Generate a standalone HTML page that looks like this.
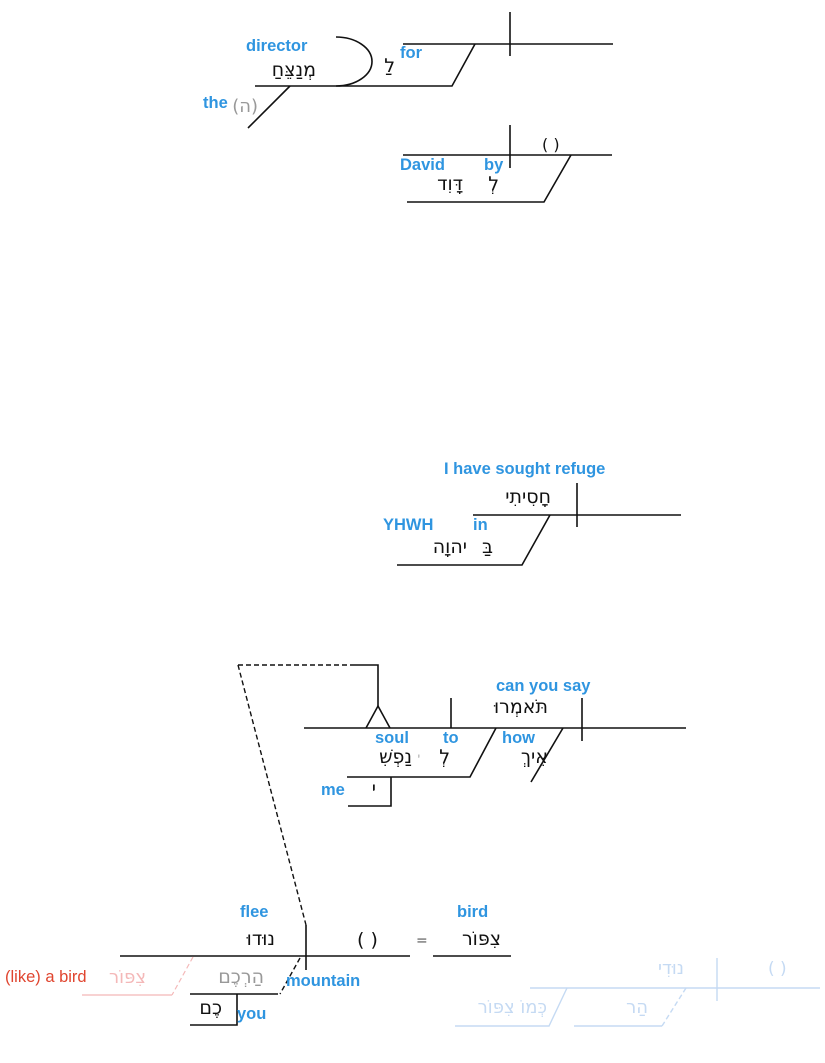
<!DOCTYPE html>
<html><head><meta charset="utf-8"><style>
html,body{margin:0;padding:0;background:#fff;width:825px;height:1063px;overflow:hidden}
svg{display:block}
.b{font-family:"Liberation Sans",sans-serif;font-weight:bold;font-size:16.5px;fill:#2f95e0}
.h{font-family:"DejaVu Sans","Liberation Sans",sans-serif;font-size:19px;fill:#111}
.p{font-family:"DejaVu Sans","Liberation Sans",sans-serif;font-size:17px;fill:#111}
</style></head><body>
<svg width="825" height="1063" viewBox="0 0 825 1063" xmlns="http://www.w3.org/2000/svg">
<g stroke="#111" stroke-width="1.6" fill="none">
<line x1="403" y1="44" x2="613" y2="44"/>
<line x1="510" y1="12" x2="510" y2="56"/>
<polyline points="475,44 452,86 255,86"/>
<path d="M336,37 A36,24.5 0 0 1 336,86"/>
<line x1="290" y1="86" x2="248" y2="128"/>
<line x1="403" y1="155" x2="612" y2="155"/>
<line x1="510" y1="125" x2="510" y2="168"/>
<polyline points="571,155 544,202 407,202"/>
<line x1="473" y1="515" x2="681" y2="515"/>
<line x1="577" y1="483" x2="577" y2="527"/>
<polyline points="550,515 522,565 397,565"/>
<line x1="304" y1="728" x2="686" y2="728"/>
<line x1="451" y1="698" x2="451" y2="728"/>
<line x1="582" y1="698" x2="582" y2="741"/>
<polyline points="366,728 378,706 390,728"/>
<polyline points="352,665 378,665 378,706"/>
<polyline points="496,728 470,777 347,777"/>
<polyline points="391,777 391,806 348,806"/>
<line x1="563" y1="728" x2="531" y2="782"/>
<line x1="120" y1="956" x2="410" y2="956"/>
<line x1="306" y1="925" x2="306" y2="970"/>
<line x1="433" y1="956" x2="511" y2="956"/>
<line x1="190" y1="994" x2="278" y2="994"/>
<polyline points="237,994 237,1025 190,1025"/>
</g>
<g stroke="#111" stroke-width="1.4" fill="none" stroke-dasharray="5,3">
<line x1="238" y1="665" x2="352" y2="665"/>
<line x1="238" y1="665" x2="306" y2="925"/>
<line x1="300" y1="958" x2="280" y2="994"/>
</g>
<g stroke="#f4b8b8" stroke-width="1.2" fill="none">
<line x1="82" y1="995" x2="172" y2="995"/>
<line x1="193" y1="957" x2="172" y2="995" stroke-dasharray="5,3"/>
</g>
<g stroke="#c5daf3" stroke-width="1.4" fill="none">
<line x1="530" y1="988" x2="820" y2="988"/>
<line x1="717" y1="958" x2="717" y2="1001"/>
<polyline points="567,988 549,1026 455,1026"/>
<line x1="574" y1="1026" x2="662" y2="1026"/>
<line x1="686" y1="988" x2="662" y2="1026" stroke-dasharray="5,3"/>
</g>
<text class="b" x="246" y="51">director</text>
<text class="b" x="400" y="58">for</text>
<text class="b" x="203" y="108">the</text>
<text class="b" x="400" y="170">David</text>
<text class="b" x="484" y="170">by</text>
<text class="b" x="444" y="474">I have sought refuge</text>
<text class="b" x="383" y="530">YHWH</text>
<text class="b" x="473" y="530">in</text>
<text class="b" x="496" y="691">can you say</text>
<text class="b" x="375" y="743">soul</text>
<text class="b" x="443" y="743">to</text>
<text class="b" x="502" y="743">how</text>
<text class="b" x="321" y="795">me</text>
<text class="b" x="240" y="917">flee</text>
<text class="b" x="457" y="917">bird</text>
<text class="b" x="286" y="986">mountain</text>
<text class="b" x="237" y="1019">you</text>
<text x="5" y="982" style="font-family:'Liberation Sans',sans-serif;font-size:16.5px;fill:#e0452f">(like) a bird</text>
<text class="p" x="542" y="150" style="font-size:16px">( )</text>
<text class="p" x="357" y="946" style="font-size:19px">(  )</text>
<text x="416" y="945" style="font-family:'DejaVu Sans',sans-serif;font-size:14px;fill:#555">=</text>
<text x="768" y="974" style="font-family:'DejaVu Sans',sans-serif;font-size:17px;fill:#c5daf3">( )</text>
<g direction="rtl">
<text class="h" x="316" y="76">מְנַצֵּחַ</text>
<text class="h" x="395" y="72">לַ</text>
<text x="258" y="112" style="font-family:'DejaVu Sans',sans-serif;font-size:18px;fill:#999">(ה)</text>
<text class="h" x="499" y="190">לְ</text>
<text class="h" x="463" y="190">דָּוִד</text>
<text class="h" x="551" y="503">חָסִיתִי</text>
<text class="h" x="493" y="553">בַּ</text>
<text class="h" x="467" y="553">יהוָה</text>
<text class="h" x="548" y="713">תֹּאמְרוּ</text>
<text class="h" x="412" y="763">נַפְשִׁ</text>
<text x="420" y="760" style="font-family:'DejaVu Sans',sans-serif;font-size:10px;fill:#999">י</text>
<text class="h" x="450" y="763">לְ</text>
<text class="h" x="548" y="763">אֵיךְ</text>
<text class="h" x="376" y="795">י</text>
<text class="h" x="275" y="945">נוּדוּ</text>
<text class="h" x="501" y="945">צִפּוֹר</text>
<text x="146" y="983" style="font-family:'DejaVu Sans',sans-serif;font-size:18px;fill:#f4b8b8">צִפּוֹר</text>
<text x="264" y="983" style="font-family:'DejaVu Sans',sans-serif;font-size:19px;fill:#999">הַרְכֶם</text>
<text class="h" x="222" y="1014">כֶם</text>
<text x="684" y="974" style="font-family:'DejaVu Sans',sans-serif;font-size:18px;fill:#c5daf3">נוּדִי</text>
<text x="648" y="1013" style="font-family:'DejaVu Sans',sans-serif;font-size:18px;fill:#c5daf3">הַר</text>
<text x="547" y="1013" style="font-family:'DejaVu Sans',sans-serif;font-size:18px;fill:#c5daf3">כְּמוֹ צִפּוֹר</text>
</g>
</svg>
</body></html>
